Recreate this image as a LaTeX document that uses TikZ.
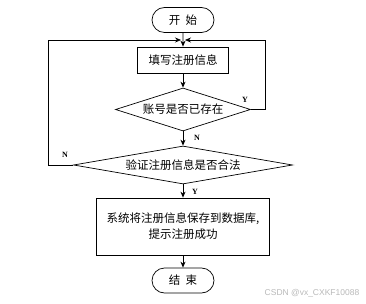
\documentclass[tikz,border=0pt]{standalone}
\usepackage{fontspec}
\setmainfont{Liberation Serif}
\newfontfamily\cjk{Noto Sans CJK SC}
\newfontfamily\wmfont{Liberation Sans}
\usetikzlibrary{shapes.geometric,shapes.misc,arrows.meta}
\tikzset{
  base/.style={draw=black, line width=0.7pt, font=\cjk\fontsize{11.5}{16}\selectfont, inner sep=0pt, align=center},
  term/.style={base, rounded rectangle, minimum width=62pt, minimum height=25pt},
  proc/.style={base, rectangle},
  dec/.style={base, diamond},
  conn/.style={line width=0.7pt, -{Stealth[length=6pt,width=5pt]}},
  lab/.style={font=\fontsize{8}{9}\selectfont\bfseries, inner sep=0pt},
}
\begin{document}
\begin{tikzpicture}[x=1pt,y=-1pt]
\useasboundingbox (0,0) rectangle (366,304);
\node[term] (start) at (183,20) {开\ \ 始};
\node[proc, minimum width=91pt, minimum height=26pt] (fill) at (183,60) {填写注册信息};
\node[dec, shape aspect=3.14, minimum width=135pt, minimum height=43pt] (d1) at (183,109.5) {账号是否已存在};
\node[dec, shape aspect=5.76, minimum width=219pt, minimum height=38pt] (d2) at (183,165) {验证注册信息是否合法};
\node[proc, minimum width=173pt, minimum height=57pt] (save) at (183,226.5) {系统将注册信息保存到数据库,\\提示注册成功};
\node[term] (end) at (183,280.5) {结\ \ 束};
\coordinate (jl) at (181,40);
\coordinate (jr) at (185,40);
\coordinate (lc) at (48,165);
\coordinate (rc) at (265,109.5);
\draw[conn] (start) -- (fill);
\draw[conn] (fill) -- (d1);
\draw[conn] (d1) -- (d2);
\draw[conn] (d2) -- (save);
\draw[conn] (save) -- (end);
\draw[conn] (d1.east) -- (rc) |- (jr);
\draw[conn] (d2.west) -- (lc) |- (jl);
\node[lab] (n1) at (197,138) {N};
\node[lab] (n2) at (65,155) {N};
\node[lab] (y1) at (245,100) {Y};
\node[lab] (y2) at (195,192) {Y};
\node[font=\wmfont\fontsize{8.5}{10}\selectfont, text=gray!55, inner sep=0pt] (wm) at (312,293) {CSDN @vx\_CXKF10088};
\end{tikzpicture}
\end{document}
